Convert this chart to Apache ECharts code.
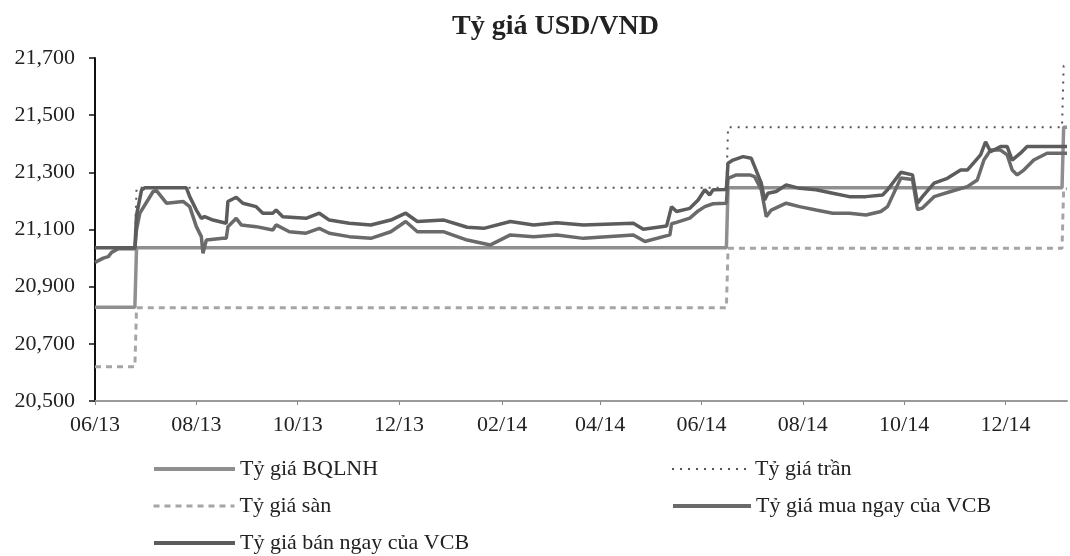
<!DOCTYPE html>
<html>
<head>
<meta charset="utf-8">
<script src="https://cdn.jsdelivr.net/npm/echarts@6.0.0/dist/echarts.min.js"></script>
<style>
html,body{margin:0;padding:0;background:#fff;}
#chart{width:1070px;height:556px;}
</style>
</head>
<body>
<div id="chart"></div>
<script>
// ---- Data ----
const xStart = '2013-06-03';
const xEnd = '2015-01-09';
const tickDates = ['2013-06-03','2013-08-03','2013-10-03','2013-12-03','2014-02-03','2014-04-03','2014-06-03','2014-08-03','2014-10-03','2014-12-03'];
const yTicks = {min: 20500, max: 21700, step: 200};

const seriesNames = ['Tỷ giá BQLNH','Tỷ giá trần','Tỷ giá sàn','Tỷ giá mua ngay của VCB','Tỷ giá bán ngay của VCB'];

const rateBQLNH = [['2013-06-03',20828],['2013-06-27',20828],['2013-06-28',21036],['2014-06-18',21036],['2014-06-19',21246],['2015-01-06',21246],['2015-01-07',21458],['2015-01-09',21458]];
const rateCeiling = [['2013-06-03',21036],['2013-06-27',21036],['2013-06-28',21246],['2014-06-18',21246],['2014-06-19',21458],['2015-01-06',21458],['2015-01-07',21673],['2015-01-09',21673]];
const rateFloor = [['2013-06-03',20620],['2013-06-27',20620],['2013-06-28',20826],['2014-06-18',20826],['2014-06-19',21034],['2015-01-06',21034],['2015-01-07',21243],['2015-01-09',21243]];

const rateBuyVCB = [['2013-06-03',20985],['2013-06-08',21000],['2013-06-11',21005],['2013-06-13',21020],['2013-06-17',21033],['2013-06-27',21033],['2013-06-28',21100],['2013-06-30',21157],['2013-07-08',21233],['2013-07-10',21236],['2013-07-16',21192],['2013-07-26',21198],['2013-07-30',21180],['2013-08-03',21110],['2013-08-06',21075],['2013-08-07',21017],['2013-08-09',21063],['2013-08-19',21069],['2013-08-21',21069],['2013-08-22',21110],['2013-08-27',21139],['2013-08-30',21116],['2013-09-08',21110],['2013-09-18',21098],['2013-09-20',21116],['2013-09-28',21092],['2013-10-08',21087],['2013-10-16',21104],['2013-10-22',21087],['2013-11-03',21075],['2013-11-16',21069],['2013-11-28',21092],['2013-12-07',21128],['2013-12-14',21092],['2013-12-30',21092],['2014-01-13',21063],['2014-01-27',21046],['2014-02-08',21081],['2014-02-22',21075],['2014-03-08',21081],['2014-03-24',21069],['2014-04-23',21081],['2014-04-30',21058],['2014-05-15',21081],['2014-05-16',21120],['2014-05-19',21125],['2014-05-27',21140],['2014-06-01',21165],['2014-06-05',21180],['2014-06-10',21190],['2014-06-18',21192],['2014-06-19',21279],['2014-06-24',21291],['2014-07-02',21291],['2014-07-05',21285],['2014-07-09',21239],['2014-07-12',21145],['2014-07-15',21168],['2014-07-24',21192],['2014-08-01',21180],['2014-08-11',21168],['2014-08-21',21157],['2014-08-31',21157],['2014-09-10',21151],['2014-09-19',21163],['2014-09-23',21180],['2014-10-01',21280],['2014-10-08',21275],['2014-10-11',21170],['2014-10-14',21175],['2014-10-21',21215],['2014-10-31',21233],['2014-11-10',21250],['2014-11-16',21273],['2014-11-20',21343],['2014-11-24',21378],['2014-11-30',21378],['2014-12-04',21361],['2014-12-07',21308],['2014-12-10',21291],['2014-12-14',21308],['2014-12-20',21343],['2014-12-28',21367],['2015-01-09',21367]];

const rateSellVCB = [['2013-06-03',21036],['2013-06-27',21036],['2013-06-28',21150],['2013-07-01',21238],['2013-07-03',21246],['2013-07-28',21246],['2013-07-30',21215],['2013-08-03',21168],['2013-08-06',21139],['2013-08-08',21145],['2013-08-13',21133],['2013-08-21',21122],['2013-08-22',21198],['2013-08-27',21213],['2013-08-31',21192],['2013-09-08',21180],['2013-09-12',21157],['2013-09-18',21157],['2013-09-20',21168],['2013-09-24',21145],['2013-10-08',21139],['2013-10-16',21157],['2013-10-22',21133],['2013-11-03',21122],['2013-11-16',21116],['2013-11-28',21133],['2013-12-07',21157],['2013-12-14',21128],['2013-12-30',21133],['2014-01-13',21108],['2014-01-23',21104],['2014-02-08',21128],['2014-02-22',21116],['2014-03-08',21124],['2014-03-24',21116],['2014-04-23',21122],['2014-04-29',21101],['2014-05-13',21112],['2014-05-16',21180],['2014-05-19',21163],['2014-05-27',21174],['2014-06-01',21203],['2014-06-05',21239],['2014-06-08',21221],['2014-06-10',21239],['2014-06-18',21240],['2014-06-19',21332],['2014-06-22',21343],['2014-06-28',21355],['2014-07-03',21349],['2014-07-05',21320],['2014-07-09',21262],['2014-07-11',21203],['2014-07-13',21227],['2014-07-18',21233],['2014-07-24',21256],['2014-08-01',21244],['2014-08-11',21239],['2014-08-21',21227],['2014-08-31',21215],['2014-09-10',21215],['2014-09-20',21221],['2014-09-23',21239],['2014-10-01',21300],['2014-10-08',21291],['2014-10-11',21192],['2014-10-14',21215],['2014-10-21',21262],['2014-10-29',21279],['2014-11-06',21308],['2014-11-10',21308],['2014-11-18',21361],['2014-11-21',21407],['2014-11-24',21372],['2014-11-30',21390],['2014-12-04',21390],['2014-12-07',21343],['2014-12-12',21367],['2014-12-16',21390],['2015-01-09',21390]];

// ---- Helpers ----
function parseLocal(s){const p=s.split('-').map(Number);return new Date(p[0],p[1]-1,p[2]).getTime();}
function toPoints(arr){return arr.map(d=>[parseLocal(d[0]),d[1]]);}
function pad(n){return (n<10?'0':'')+n;}
const FONT = 'Liberation Serif';
const tickValues = tickDates.map(parseLocal);

const chart = echarts.init(document.getElementById('chart'), null, {renderer:'canvas'});
const labelStyle = {fontFamily: FONT, fontSize: 22, color: '#222'};

// one legend box per entry (two columns, three rows)
const legendSlots = [
  {name: seriesNames[0], left: 147, top: 453, w: 81, lw: 4},
  {name: seriesNames[1], left: 666, top: 453, w: 78, lw: 2},
  {name: seriesNames[2], left: 147, top: 490, w: 81, lw: 3},
  {name: seriesNames[3], left: 666, top: 490, w: 78, lw: 4},
  {name: seriesNames[4], left: 147, top: 527, w: 81, lw: 4}
];

const option = {
  animation: false,
  backgroundColor: '#fff',
  title: {
    text: 'Tỷ giá USD/VND',
    left: 447, top: 8,
    textStyle: {fontFamily: FONT, fontWeight: 'bold', fontSize: 28, color: '#222'}
  },
  grid: {left: 95, right: 3, top: 58, bottom: 155},
  legend: legendSlots.map(s => ({
    data: [s.name],
    left: s.left, top: s.top,
    itemWidth: s.w, itemHeight: 14,
    selectedMode: false,
    itemStyle: {opacity: 0},
    lineStyle: {width: s.lw},
    textStyle: labelStyle
  })),
  xAxis: {
    type: 'value',
    min: parseLocal(xStart), max: parseLocal(xEnd),
    axisLine: {show: true, onZero: false, lineStyle: {color: '#9a9a9a', width: 2}},
    axisTick: {show: true, customValues: tickValues, length: 4, lineStyle: {color: '#888', width: 1}},
    axisLabel: {
      customValues: tickValues,
      margin: 13,
      formatter: function(v){const d=new Date(v);return pad(d.getMonth()+1)+'/'+pad(d.getFullYear()%100);},
      ...labelStyle
    },
    splitLine: {show: false}
  },
  yAxis: {
    type: 'value',
    min: yTicks.min, max: yTicks.max, interval: yTicks.step,
    axisLine: {show: true, lineStyle: {color: '#111', width: 2}},
    axisTick: {show: true, length: 6, lineStyle: {color: '#111', width: 1.5}},
    axisLabel: {
      margin: 20,
      formatter: function(v){return v.toLocaleString('en-US');},
      ...labelStyle
    },
    splitLine: {show: false}
  },
  series: [
    {name: seriesNames[0], type: 'line', symbol: 'none', data: toPoints(rateBQLNH),
     lineStyle: {color: '#8f8f8f', width: 3.5}, itemStyle: {color: '#8f8f8f'}, z: 2},
    {name: seriesNames[1], type: 'line', symbol: 'none', data: toPoints(rateCeiling),
     lineStyle: {color: '#555', width: 2, type: [2, 6]}, itemStyle: {color: '#555'}, z: 1},
    {name: seriesNames[2], type: 'line', symbol: 'none', data: toPoints(rateFloor),
     lineStyle: {color: '#a5a5a5', width: 3, type: [6, 5]}, itemStyle: {color: '#a5a5a5'}, z: 1},
    {name: seriesNames[3], type: 'line', symbol: 'none', data: toPoints(rateBuyVCB),
     lineStyle: {color: '#6a6a6a', width: 3.5}, itemStyle: {color: '#6a6a6a'}, z: 3},
    {name: seriesNames[4], type: 'line', symbol: 'none', data: toPoints(rateSellVCB),
     lineStyle: {color: '#5c5c5c', width: 3.5}, itemStyle: {color: '#5c5c5c'}, z: 4}
  ]
};
chart.setOption(option);
</script>
</body>
</html>
